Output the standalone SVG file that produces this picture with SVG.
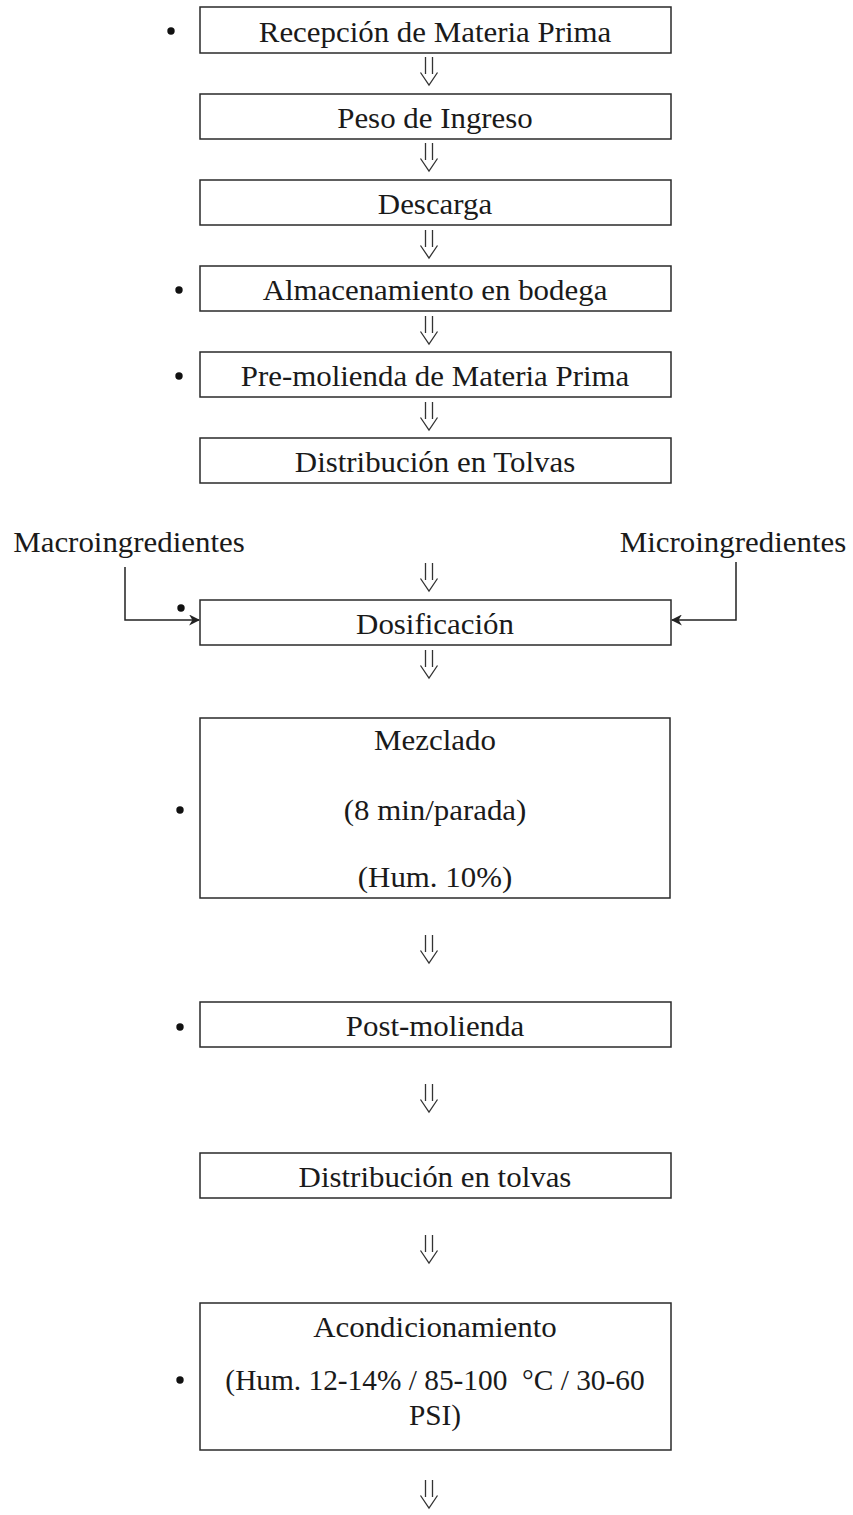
<svg xmlns="http://www.w3.org/2000/svg" width="853" height="1515" viewBox="0 0 853 1515">
<style>
.box{fill:#fff;stroke:#2a2a2a;stroke-width:1.5}
.t{font-family:"Liberation Serif","Times New Roman",serif;font-size:30px;fill:#1a1a1a;text-anchor:middle}
.s{font-size:28.5px}
.dot{fill:#111}
.arr{fill:none;stroke:#333;stroke-width:1.3}
.con{fill:none;stroke:#222;stroke-width:1.5}
</style>
<defs>
<marker id="ah" viewBox="0 0 10 10" refX="9" refY="5" markerWidth="11" markerHeight="11" markerUnits="userSpaceOnUse" orient="auto">
<path d="M0,0 L10,5 L0,10 L3,5 Z" fill="#222"/>
</marker>
<path id="dar" d="M-3.5,0 V17 M3.5,0 V17 M-8.5,15.5 L0,28 L8.5,15.5"/>
</defs>
<rect width="853" height="1515" fill="#fff"/>

<g id="connectors">
<use href="#dar" class="arr" x="429" y="57"/>
<use href="#dar" class="arr" x="429" y="143"/>
<use href="#dar" class="arr" x="429" y="230"/>
<use href="#dar" class="arr" x="429" y="316"/>
<use href="#dar" class="arr" x="429" y="402"/>
<use href="#dar" class="arr" x="429" y="563"/>
<use href="#dar" class="arr" x="429" y="650"/>
<use href="#dar" class="arr" x="429" y="935"/>
<use href="#dar" class="arr" x="429" y="1084"/>
<use href="#dar" class="arr" x="429" y="1235"/>
<use href="#dar" class="arr" x="429" y="1480"/>
<path class="con" d="M125,567 V620 H199" marker-end="url(#ah)"/>
<path class="con" d="M736,562 V620 H672" marker-end="url(#ah)"/>
</g>

<g id="macro"><text class="t" transform="translate(129,552) scale(1.03,1)">Macroingredientes</text></g>
<g id="micro"><text class="t" transform="translate(733,552) scale(1.03,1)">Microingredientes</text></g>

<g id="n1">
<rect class="box" x="200" y="7" width="471" height="46"/>
<circle class="dot" cx="171" cy="31" r="3.7"/>
<text class="t" transform="translate(435,42) scale(1.03,1)">Recepción de Materia Prima</text>
</g>
<g id="n2">
<rect class="box" x="200" y="94" width="471" height="45"/>
<text class="t" transform="translate(435,128) scale(1.03,1)">Peso de Ingreso</text>
</g>
<g id="n3">
<rect class="box" x="200" y="180" width="471" height="45"/>
<text class="t" transform="translate(435,214) scale(1.03,1)">Descarga</text>
</g>
<g id="n4">
<rect class="box" x="200" y="266" width="471" height="45"/>
<circle class="dot" cx="179" cy="290" r="3.7"/>
<text class="t" transform="translate(435,300) scale(1.03,1)">Almacenamiento en bodega</text>
</g>
<g id="n5">
<rect class="box" x="200" y="352" width="471" height="45"/>
<circle class="dot" cx="179" cy="376" r="3.7"/>
<text class="t" transform="translate(435,386) scale(1.03,1)">Pre-molienda de Materia Prima</text>
</g>
<g id="n6">
<rect class="box" x="200" y="438" width="471" height="45"/>
<text class="t" transform="translate(435,472) scale(1.03,1)">Distribución en Tolvas</text>
</g>
<g id="n7">
<rect class="box" x="200" y="600" width="471" height="45"/>
<circle class="dot" cx="181" cy="608" r="3.7"/>
<text class="t" transform="translate(435,634) scale(1.03,1)">Dosificación</text>
</g>
<g id="n8">
<rect class="box" x="200" y="718" width="470" height="180"/>
<circle class="dot" cx="180" cy="810" r="3.7"/>
<text class="t" transform="translate(435,750) scale(1.03,1)">Mezclado</text>
<text class="t" transform="translate(435,820) scale(1.03,1)">(8 min/parada)</text>
<text class="t" transform="translate(435,887) scale(1.03,1)">(Hum. 10%)</text>
</g>
<g id="n9">
<rect class="box" x="200" y="1002" width="471" height="45"/>
<circle class="dot" cx="180" cy="1027" r="3.7"/>
<text class="t" transform="translate(435,1036) scale(1.03,1)">Post-molienda</text>
</g>
<g id="n10">
<rect class="box" x="200" y="1153" width="471" height="45"/>
<text class="t" transform="translate(435,1187) scale(1.03,1)">Distribución en tolvas</text>
</g>
<g id="n11">
<rect class="box" x="200" y="1303" width="471" height="147"/>
<circle class="dot" cx="180" cy="1380" r="3.7"/>
<text class="t" transform="translate(435,1337) scale(1.03,1)">Acondicionamiento</text>
<text class="t s" transform="translate(435,1390) scale(1.03,1)">(Hum. 12-14% / 85-100&#160; °C / 30-60</text>
<text class="t s" transform="translate(435,1425) scale(1.03,1)">PSI)</text>
</g>
</svg>
